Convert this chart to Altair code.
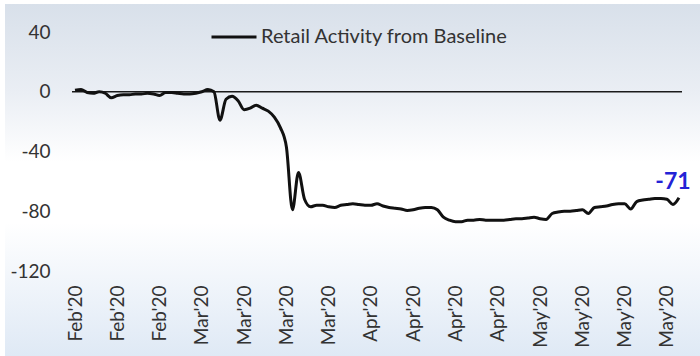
import json
import pandas as pd
import altair as alt

# ---- data (daily, 15 Feb 2020 .. 25 May 2020) ----
start_date = "2020-02-15"
retail = [
    1, 1.5, -0.5, -1, 0, -1, -4, -2.5, -2, -2,          # Feb 15-24
    -1.5, -1.5, -1, -1.5, -2.5,                          # Feb 25-29
    -0.5, -0.5, -1, -1.5, -1.5, -1, 0, 1.5, 0, -19,      # Mar 1-10
    -5, -3, -6, -12, -11, -9, -11, -13, -17, -24,        # Mar 11-20
    -37, -79, -54, -72, -77, -76, -76, -77, -77.5, -76,  # Mar 21-30
    -75.5,                                               # Mar 31
    -75, -75.5, -76, -76, -75, -76.5, -77.5, -78, -78.5, -79.5,  # Apr 1-10
    -79, -78, -77.5, -77.5, -79, -84, -86, -87, -87, -86,        # Apr 11-20
    -86, -85.5, -86, -86, -86, -86, -85.5, -85, -85, -84.5,      # Apr 21-30
    -84, -85, -85.5, -81.5, -80.5, -80, -80, -79.5, -79, -81.5,  # May 1-10
    -77.5, -77, -76.5, -75.5, -75, -75, -78.5, -73.5, -72.5, -72,  # May 11-20
    -71.5, -71.5, -72, -75.5, -71,                       # May 21-25
]
series_name = "Retail Activity from Baseline"
last_label = "-71"

tick_dates = ["2020-02-15", "2020-02-22", "2020-02-29", "2020-03-07", "2020-03-14",
              "2020-03-21", "2020-03-28", "2020-04-04", "2020-04-11", "2020-04-18",
              "2020-04-25", "2020-05-02", "2020-05-09", "2020-05-16", "2020-05-23"]
y_ticks = [40, 0, -40, -80, -120]

dates = pd.date_range(start_date, periods=len(retail), freq="D")
df = pd.DataFrame({"date": dates, "value": retail, "series": series_name})
last_df = df.tail(1).assign(label=last_label)


def dt(s, hours=0):
    d = pd.Timestamp(s)
    return alt.DateTime(year=d.year, month=d.month, date=d.day, hours=hours)


FONT = "Lato"
W, H = 610, 239
PAD = {"left": 72, "top": 32, "right": 18, "bottom": 85}

x_scale = alt.Scale(domain=[dt("2020-02-14", 12), dt("2020-05-25", 12)])
y_scale = alt.Scale(domain=[-120, 40], nice=False, zero=False)

background = alt.Chart(df.head(1)).mark_rect(
    fill=alt.Gradient(
        gradient="linear", x1=0, y1=0, x2=0, y2=1,
        stops=[
            alt.GradientStop(offset=0, color="#d8e0ea"),
            alt.GradientStop(offset=0.25, color="#eaeef4"),
            alt.GradientStop(offset=0.45, color="#ffffff"),
            alt.GradientStop(offset=0.62, color="#ffffff"),
            alt.GradientStop(offset=1, color="#dfe9f5"),
        ],
    )
).encode(
    x=alt.value(-PAD["left"] + 5), x2=alt.value(W + PAD["right"]),
    y=alt.value(-PAD["top"] + 4), y2=alt.value(H + PAD["bottom"]),
)

zero_rule = alt.Chart(df.head(1)).mark_rule(color="#1a1a1a", strokeWidth=1.5).encode(
    y=alt.datum(0, scale=y_scale)
)

line = alt.Chart(df).mark_line(strokeWidth=3, interpolate="monotone").encode(
    x=alt.X("date:T", scale=x_scale,
            axis=alt.Axis(values=[dt(s) for s in tick_dates], format="%b'%y",
                          labelAngle=270, labelAlign="right", labelBaseline="middle",
                          labelPadding=14, domain=False, ticks=False, grid=False,
                          title=None, labelFont=FONT, labelFontSize=19,
                          labelColor="#333333", labelOverlap=False, zindex=2)),
    y=alt.Y("value:Q", scale=y_scale,
            axis=alt.Axis(values=y_ticks, labelExpr="datum.value + ''",
                          domain=False, ticks=False, grid=False,
                          title=None, labelFont=FONT, labelFontSize=19,
                          labelColor="#333333", labelPadding=22, zindex=2)),
    color=alt.Color("series:N", scale=alt.Scale(range=["#111111"]),
                    legend=alt.Legend(title=None, orient="none", legendX=138,
                                      legendY=-19, symbolType="stroke",
                                      symbolSize=2025, symbolStrokeWidth=3,
                                      labelFont=FONT, labelFontSize=20,
                                      labelColor="#333333", labelOffset=3,
                                      labelLimit=0, padding=0, zindex=2)),
)

end_label = alt.Chart(last_df).mark_text(
    font=FONT, fontSize=23, fontWeight="bold", color="#2323d6",
    align="center", baseline="middle", dx=-6, dy=-16,
).encode(x=alt.X("date:T", scale=x_scale), y=alt.Y("value:Q", scale=y_scale),
         text="label:N")

chart = alt.layer(background, zero_rule, line, end_label).properties(
    width=W, height=H, padding=PAD,
    autosize=alt.AutoSizeParams(type="none"),
    background="#ffffff",
).configure_view(stroke=None)

chart.save("out.html", embed_options={"renderer": "svg", "actions": False})
